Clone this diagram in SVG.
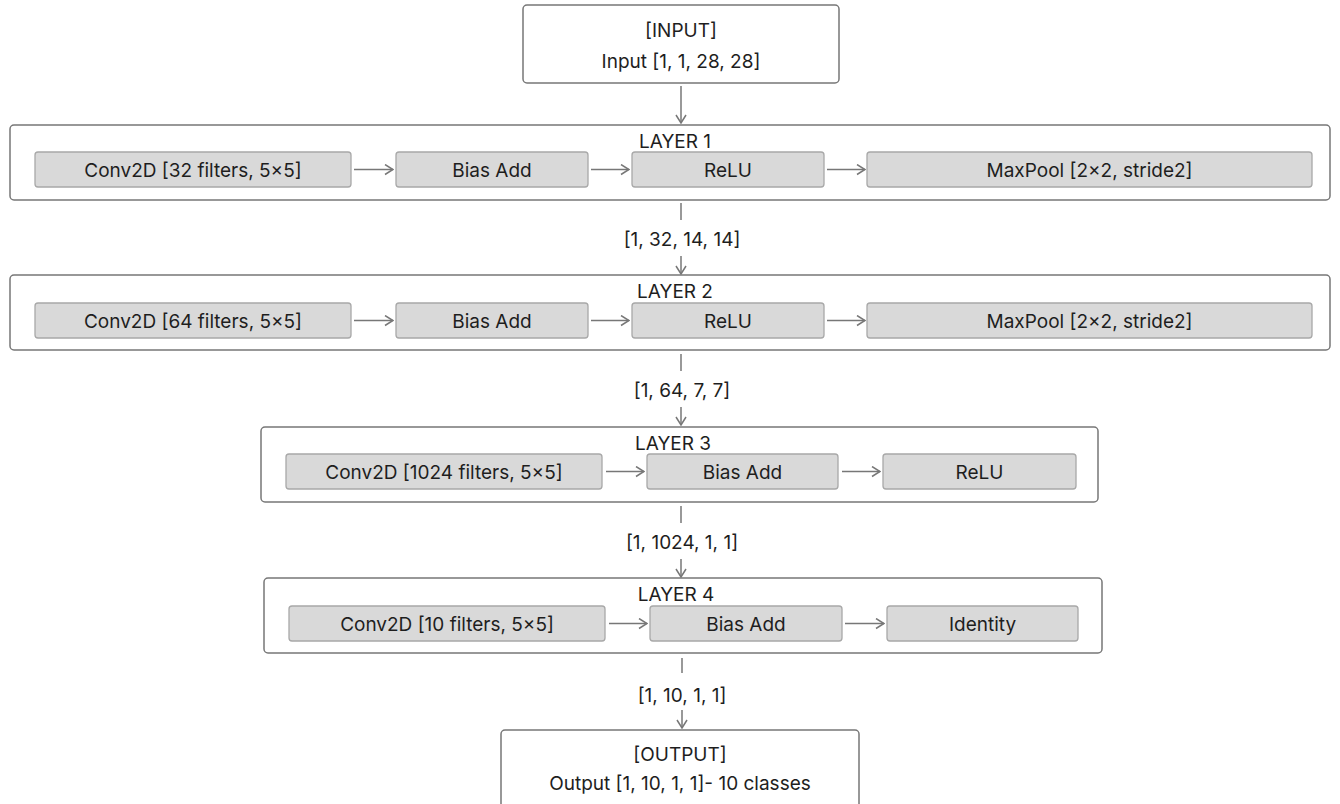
<svg xmlns="http://www.w3.org/2000/svg" width="1340" height="804" viewBox="0 0 1340 804">
<style>
text{font-family:Inter,"Liberation Sans",sans-serif;font-size:19px;fill:#1e1e1e;text-anchor:middle}
.box{fill:#fff;stroke:#777;stroke-width:1.5}
.node{fill:#d9d9d9;stroke:#a8a8a8;stroke-width:1.3}
.c{fill:none;stroke:#777;stroke-width:1.5}
</style>
<defs>
<marker id="ah" viewBox="0 0 10 12" refX="9" refY="6" markerWidth="10" markerHeight="12" markerUnits="userSpaceOnUse" orient="auto">
<path d="M1,1 L9,6 L1,11" fill="none" stroke="#777" stroke-width="1.5"/>
</marker>
</defs>
<rect width="1340" height="804" fill="#fff"/>

<g id="input">
<rect class="box" x="523" y="5" width="316" height="78" rx="4"/>
<text x="681" y="37">[INPUT]</text>
<text x="681" y="68">Input [1, 1, 28, 28]</text>
</g>

<g id="layer1">
<rect class="box" x="10" y="125" width="1320" height="75" rx="4"/>
<text x="675" y="148">LAYER 1</text>
<g id="l1conv"><rect class="node" x="35" y="152" width="316" height="35" rx="3"/><text x="193" y="176.5">Conv2D [32 filters, 5×5]</text></g>
<g id="l1bias"><rect class="node" x="396" y="152" width="192" height="35" rx="3"/><text x="492" y="176.5">Bias Add</text></g>
<g id="l1relu"><rect class="node" x="632" y="152" width="192" height="35" rx="3"/><text x="728" y="176.5">ReLU</text></g>
<g id="l1pool"><rect class="node" x="867" y="152" width="445" height="35" rx="3"/><text x="1089.5" y="176.5">MaxPool [2×2, stride2]</text></g>
</g>

<g id="layer2">
<rect class="box" x="10" y="275" width="1320" height="75" rx="4"/>
<text x="675" y="298">LAYER 2</text>
<g id="l2conv"><rect class="node" x="35" y="303" width="316" height="35" rx="3"/><text x="193" y="327.5">Conv2D [64 filters, 5×5]</text></g>
<g id="l2bias"><rect class="node" x="396" y="303" width="192" height="35" rx="3"/><text x="492" y="327.5">Bias Add</text></g>
<g id="l2relu"><rect class="node" x="632" y="303" width="192" height="35" rx="3"/><text x="728" y="327.5">ReLU</text></g>
<g id="l2pool"><rect class="node" x="867" y="303" width="445" height="35" rx="3"/><text x="1089.5" y="327.5">MaxPool [2×2, stride2]</text></g>
</g>

<g id="layer3">
<rect class="box" x="261" y="427" width="837" height="75" rx="4"/>
<text x="673" y="450">LAYER 3</text>
<g id="l3conv"><rect class="node" x="286" y="454" width="316" height="35" rx="3"/><text x="444" y="478.5">Conv2D [1024 filters, 5×5]</text></g>
<g id="l3bias"><rect class="node" x="647" y="454" width="191" height="35" rx="3"/><text x="742.5" y="478.5">Bias Add</text></g>
<g id="l3relu"><rect class="node" x="883" y="454" width="193" height="35" rx="3"/><text x="979.5" y="478.5">ReLU</text></g>
</g>

<g id="layer4">
<rect class="box" x="264" y="578" width="838" height="75" rx="4"/>
<text x="676" y="601">LAYER 4</text>
<g id="l4conv"><rect class="node" x="289" y="606" width="316" height="35" rx="3"/><text x="447" y="630.5">Conv2D [10 filters, 5×5]</text></g>
<g id="l4bias"><rect class="node" x="650" y="606" width="192" height="35" rx="3"/><text x="746" y="630.5">Bias Add</text></g>
<g id="l4id"><rect class="node" x="887" y="606" width="191" height="35" rx="3"/><text x="982.5" y="630.5">Identity</text></g>
</g>

<g id="output">
<rect class="box" x="501" y="730" width="358" height="100" rx="4"/>
<text x="680" y="761">[OUTPUT]</text>
<text x="680" y="790">Output [1, 10, 1, 1]- 10 classes</text>
</g>

<g id="connectors">
<line class="c" x1="681" y1="86" x2="681" y2="123" marker-end="url(#ah)"/>
<line class="c" x1="354" y1="169.5" x2="393" y2="169.5" marker-end="url(#ah)"/>
<line class="c" x1="591" y1="169.5" x2="629" y2="169.5" marker-end="url(#ah)"/>
<line class="c" x1="827" y1="169.5" x2="865" y2="169.5" marker-end="url(#ah)"/>
<line class="c" x1="681" y1="203" x2="681" y2="220"/>
<text x="682" y="246">[1, 32, 14, 14]</text>
<line class="c" x1="681" y1="256" x2="681" y2="274" marker-end="url(#ah)"/>
<line class="c" x1="354" y1="320.5" x2="393" y2="320.5" marker-end="url(#ah)"/>
<line class="c" x1="591" y1="320.5" x2="629" y2="320.5" marker-end="url(#ah)"/>
<line class="c" x1="827" y1="320.5" x2="865" y2="320.5" marker-end="url(#ah)"/>
<line class="c" x1="681" y1="354" x2="681" y2="371"/>
<text x="682" y="397">[1, 64, 7, 7]</text>
<line class="c" x1="681" y1="407" x2="681" y2="425" marker-end="url(#ah)"/>
<line class="c" x1="606" y1="471.5" x2="644" y2="471.5" marker-end="url(#ah)"/>
<line class="c" x1="842" y1="471.5" x2="880" y2="471.5" marker-end="url(#ah)"/>
<line class="c" x1="681" y1="506" x2="681" y2="523"/>
<text x="682" y="549">[1, 1024, 1, 1]</text>
<line class="c" x1="681" y1="559" x2="681" y2="577" marker-end="url(#ah)"/>
<line class="c" x1="609" y1="623.5" x2="647" y2="623.5" marker-end="url(#ah)"/>
<line class="c" x1="845" y1="623.5" x2="884" y2="623.5" marker-end="url(#ah)"/>
<line class="c" x1="682" y1="658" x2="682" y2="673"/>
<text x="682" y="702">[1, 10, 1, 1]</text>
<line class="c" x1="682" y1="710" x2="682" y2="728" marker-end="url(#ah)"/>
</g>
</svg>
